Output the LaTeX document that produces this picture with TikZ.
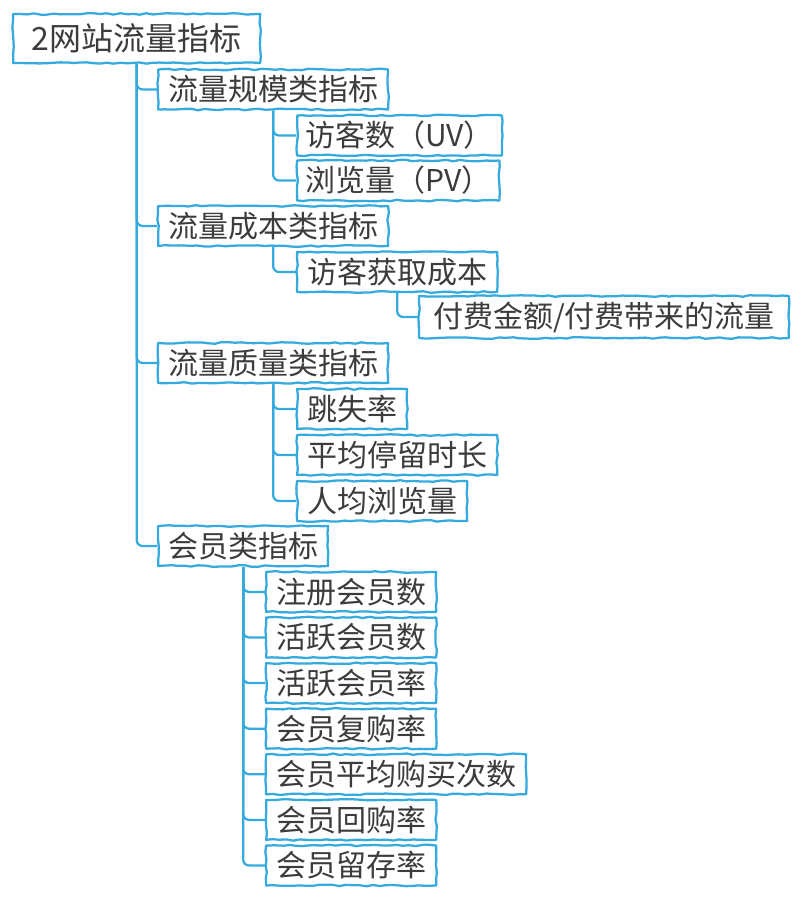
\documentclass[tikz,border=0pt]{standalone}
\usepackage{fontspec}
\setmainfont{Noto Sans CJK SC}
\usetikzlibrary{decorations.pathmorphing}

\begin{document}
\begin{tikzpicture}[x=0.75pt,y=-0.75pt,
    sketch/.style={draw=skyblue, line width=1.7pt, fill=white, decorate,
      decoration={random steps, segment length=5pt, amplitude=0.6pt},
      line join=round, anchor=west, minimum height=30pt,
      inner xsep=7.5pt, inner ysep=0pt, text=textgray,
      font=\fontsize{22.5}{26}\selectfont},
    rootbox/.style={sketch, minimum height=36.75pt, inner xsep=14pt,
      font=\fontsize{24}{28}\selectfont},
    branch/.style={draw=skyblue, line width=1.7pt, rounded corners=4.5pt}]
  \definecolor{skyblue}{RGB}{52,170,222}
  \definecolor{textgray}{RGB}{60,60,60}
  \pgfmathsetseed{11}
  \useasboundingbox (0,0) rectangle (800,898);

  \node[rootbox] (root) at (12,38.5) {2网站流量指标};

  % flow scale
  \node[sketch] (scale) at (157,89.5) {流量规模类指标};
  \node[sketch, inner xsep=6pt] (uv) at (296,135.5) {访客数（UV）};
  \node[sketch, inner xsep=6pt] (pv) at (296,180.5) {浏览量（PV）};

  % flow cost
  \node[sketch] (cost) at (157,226) {流量成本类指标};
  \node[sketch] (acq) at (296,272) {访客获取成本};
  \node[sketch, minimum height=31.5pt, inner xsep=10.5pt] (paid) at (418,317) {付费金额/付费带来的流量};

  % flow quality
  \node[sketch] (quality) at (157,363) {流量质量类指标};
  \node[sketch] (bounce) at (296,409) {跳失率};
  \node[sketch] (stay) at (296,455) {平均停留时长};
  \node[sketch] (avgpv) at (296,501) {人均浏览量};

  % members
  \node[sketch] (member) at (157,546) {会员类指标};
  \foreach \txt [count=\i] in {注册会员数, 活跃会员数, 活跃会员率, 会员复购率,
      会员平均购买次数, 会员回购率, 会员留存率} {
    \node[sketch] (m\i) at (265,546.3+45.6*\i) {\txt};
    \draw[branch] (member.south) |- (m\i.west);
  }

  \foreach \kid in {scale, cost, quality, member}
    \draw[branch] (root.south) |- (\kid.west);
  \foreach \kid in {uv, pv}
    \draw[branch] (scale.south) |- (\kid.west);
  \draw[branch] (cost.south) |- (acq.west);
  \draw[branch] (acq.south) |- (paid.west);
  \foreach \kid in {bounce, stay, avgpv}
    \draw[branch] (quality.south) |- (\kid.west);
\end{tikzpicture}
\end{document}
